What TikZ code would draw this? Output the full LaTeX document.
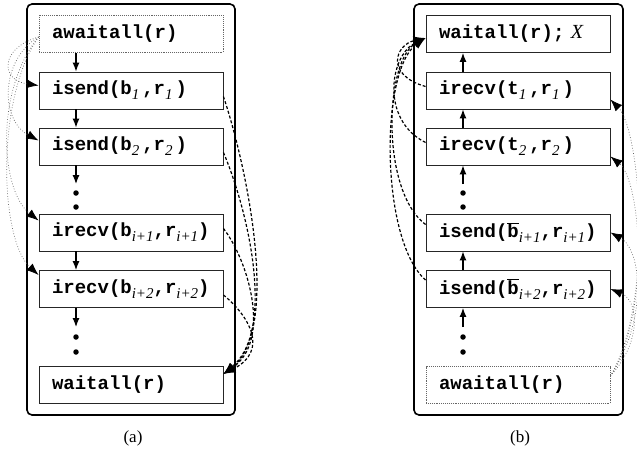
\documentclass[tikz,border=0pt]{standalone}
\usepackage{fontspec}
\setmainfont{Liberation Serif}
\setmonofont{Liberation Mono}
\usetikzlibrary{arrows.meta}
\newcommand{\idx}[1]{\raisebox{-5pt}{\fontsize{15}{15}\selectfont\rmfamily\mdseries\itshape #1}}
\tikzstyle{oblock}=[draw=black!85,line width=0.9pt,minimum height=37pt,text width=158pt,inner xsep=13pt,inner ysep=0pt,align=left,font=\fontsize{19}{22}\selectfont\ttfamily\bfseries]
\tikzstyle{dblock}=[oblock,draw=black!60,densely dotted]
\tikzstyle{frame}=[rounded corners=5pt,line width=1.6pt]
\tikzstyle{flow}=[-{Latex[length=9pt,width=7pt]},line width=1.2pt]
\tikzstyle{dep}=[-{Latex[length=12pt,width=9pt]},dash pattern=on 3pt off 2pt,line width=1.2pt]
\tikzstyle{rel}=[-{Latex[length=12pt,width=9pt,black]},dotted,draw=black!60,line width=0.7pt]
\tikzstyle{pdot}=[circle,fill,inner sep=0pt,minimum size=5.5pt]
\tikzstyle{captext}=[font=\fontsize{17}{19}\selectfont]

\begin{document}
\begin{tikzpicture}[x=1pt,y=-1pt]
\useasboundingbox (0,0) rectangle (637,452);
% (a)
\draw[frame] (27,4) rectangle (235,415);
\node[dblock] (aw) at (131,34) {awaitall(r)};
\node[oblock] (s1) at (131,90.5) {isend(b\idx{1}\hspace{3pt},r\idx{1}\hspace{3pt})};
\node[oblock] (s2) at (131,146.5) {isend(b\idx{2}\hspace{3pt},r\idx{2}\hspace{3pt})};
\node[oblock] (r1) at (131,232.5) {irecv(b\idx{i+1},r\idx{i+1})};
\node[oblock] (r2) at (131,289) {irecv(b\idx{i+2},r\idx{i+2})};
\node[oblock] (wa) at (131,385) {waitall(r)};
\node[pdot] (p1) at (76,193) {};\node[pdot] (p2) at (76,207) {};
\node[pdot] (p3) at (76,337) {};\node[pdot] (p4) at (76,352) {};
\coordinate (e1) at (76,184);\coordinate (e2) at (76,327);
\draw[flow] ([xshift=-55pt]aw.south)--([xshift=-55pt]s1.north);
\draw[flow] ([xshift=-55pt]s1.south)--([xshift=-55pt]s2.north);
\draw[flow] ([xshift=-55pt]s2.south)--(e1);
\draw[flow] ([xshift=-55pt]r1.south)--([xshift=-55pt]r2.north);
\draw[flow] ([xshift=-55pt]r2.south)--(e2);
\draw[dep] ([yshift=-6pt]s1.east) .. controls (248,170) and (280,330) .. ([yshift=11pt]wa.east);
\draw[dep] ([yshift=-6pt]s2.east) .. controls (248,210) and (276,330) .. ([yshift=11pt]wa.east);
\draw[dep] ([yshift=4pt]r1.east) .. controls (248,260) and (272,340) .. ([yshift=11pt]wa.east);
\draw[dep] ([yshift=-6pt]r2.east) .. controls (248,315) and (270,350) .. ([yshift=11pt]wa.east);
\draw[rel] ([yshift=-3pt]aw.west) .. controls (0,48) and (0,80) .. ([yshift=5pt]s1.west);
\draw[rel] ([yshift=-3pt]aw.west) .. controls (0,60) and (0,120) .. ([yshift=6pt]s2.west);
\draw[rel] ([yshift=-3pt]aw.west) .. controls (-5,90) and (0,190) .. ([yshift=12pt]r1.west);
\draw[rel] ([yshift=-3pt]aw.west) .. controls (-5,100) and (0,240) .. ([yshift=14pt]r2.west);
\node[captext] (capa) at (133,438) {(a)};
% (b)
\draw[frame] (414,4) rectangle (623,415);
\node[oblock] (wx) at (518,34) {waitall(r);{\fontsize{20}{22}\selectfont\rmfamily\mdseries\itshape\ X}};
\node[oblock] (t1) at (518,90.5) {irecv(t\idx{1}\hspace{3pt},r\idx{1}\hspace{3pt})};
\node[oblock] (t2) at (518,146.5) {irecv(t\idx{2}\hspace{3pt},r\idx{2}\hspace{3pt})};
\node[oblock] (u1) at (518,232.5) {isend($\overline{\mbox{b}}$\idx{i+1},r\idx{i+1})};
\node[oblock] (u2) at (518,289) {isend($\overline{\mbox{b}}$\idx{i+2},r\idx{i+2})};
\node[dblock] (bw) at (518,385) {awaitall(r)};
\node[pdot] (q1) at (463,193) {};\node[pdot] (q2) at (463,207) {};
\node[pdot] (q3) at (463,337) {};\node[pdot] (q4) at (463,352) {};
\coordinate (f1) at (463,184);\coordinate (f2) at (463,327);
\draw[flow] ([xshift=-55pt]t1.north)--([xshift=-55pt]wx.south);
\draw[flow] ([xshift=-55pt]t2.north)--([xshift=-55pt]t1.south);
\draw[flow] (f1)--([xshift=-55pt]t2.south);
\draw[flow] ([xshift=-55pt]u2.north)--([xshift=-55pt]u1.south);
\draw[flow] (f2)--([xshift=-55pt]u2.south);
\draw[dep] ([yshift=4pt]t1.west) .. controls (385,75) and (395,45) .. ([yshift=-4pt]wx.west);
\draw[dep] ([yshift=4pt]t2.west) .. controls (380,120) and (390,55) .. ([yshift=-4pt]wx.west);
\draw[dep] ([yshift=8pt]u1.west) .. controls (380,190) and (385,60) .. ([yshift=-4pt]wx.west);
\draw[dep] ([yshift=9pt]u2.west) .. controls (380,240) and (380,70) .. ([yshift=-4pt]wx.west);
\draw[rel] ([yshift=9pt]bw.east) .. controls (655,300) and (640,130) .. ([yshift=-9pt]t1.east);
\draw[rel] ([yshift=9pt]bw.east) .. controls (652,310) and (640,180) .. ([yshift=-10pt]t2.east);
\draw[rel] ([yshift=9pt]bw.east) .. controls (648,320) and (642,250) .. ([yshift=0pt]u1.east);
\draw[rel] ([yshift=9pt]bw.east) .. controls (643,340) and (638,300) .. ([yshift=0pt]u2.east);
\node[captext] (capb) at (520,438) {(b)};
\end{tikzpicture}
\end{document}
